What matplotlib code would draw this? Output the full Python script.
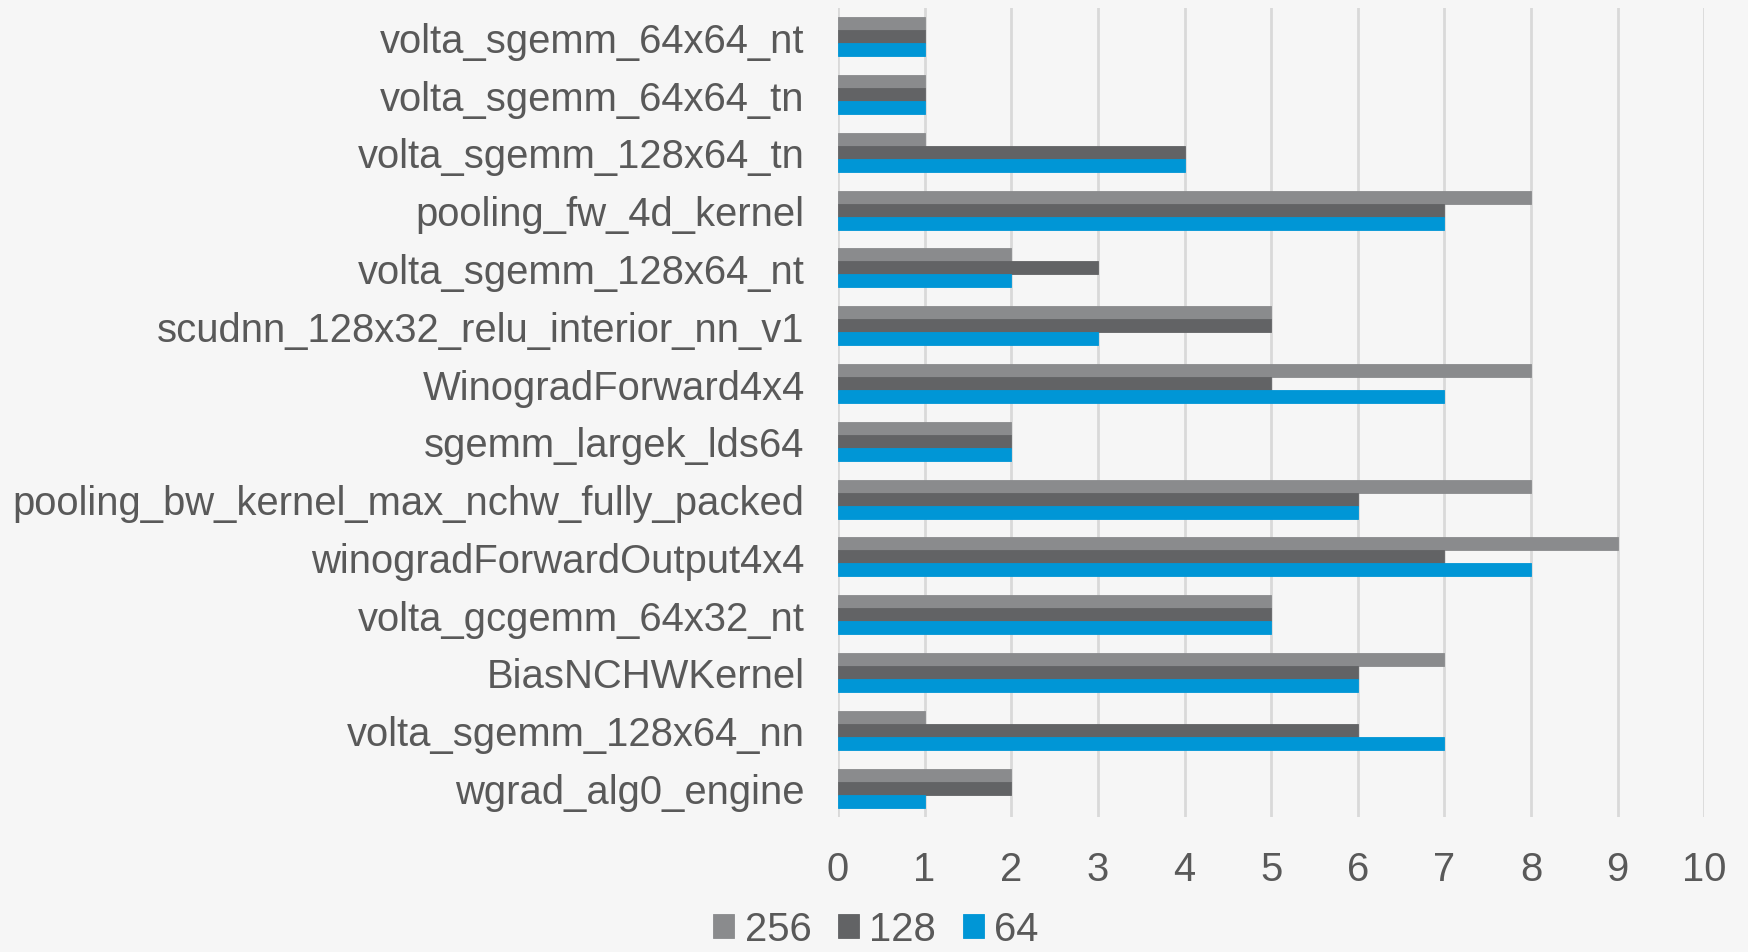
import matplotlib
matplotlib.use("Agg")
import matplotlib.pyplot as plt
import numpy as np

kernels = [
    "volta_sgemm_64x64_nt",
    "volta_sgemm_64x64_tn",
    "volta_sgemm_128x64_tn",
    "pooling_fw_4d_kernel",
    "volta_sgemm_128x64_nt",
    "scudnn_128x32_relu_interior_nn_v1",
    "WinogradForward4x4",
    "sgemm_largek_lds64",
    "pooling_bw_kernel_max_nchw_fully_packed",
    "winogradForwardOutput4x4",
    "volta_gcgemm_64x32_nt",
    "BiasNCHWKernel",
    "volta_sgemm_128x64_nn",
    "wgrad_alg0_engine",
]
batch_256 = [1, 1, 1, 8, 2, 5, 8, 2, 8, 9, 5, 7, 1, 2]
batch_128 = [1, 1, 4, 7, 3, 5, 5, 2, 6, 7, 5, 6, 6, 2]
batch_64 = [1, 1, 4, 7, 2, 3, 7, 2, 6, 8, 5, 6, 7, 1]
series_labels = ["256", "128", "64"]
x_ticks = list(range(0, 11))

colors = ["#8a8b8d", "#626365", "#0096d6"]
text_color = "#595959"
bg = "#f6f6f6"
fs = 28.8

plt.rcParams["font.family"] = ["Liberation Sans", "DejaVu Sans"]

fig = plt.figure(figsize=(17.48, 9.53), dpi=100, facecolor=bg)
ax = fig.add_axes([0.4794, 0.1417, 0.9750 - 0.4794, 0.9906 - 0.1417], facecolor=bg)

y = np.arange(len(kernels))
h = 0.225
for k, (vals, c, lab) in enumerate(zip([batch_256, batch_128, batch_64], colors, series_labels)):
    ax.barh(y + (k - 1) * h, vals, height=h, color=c, label=lab, zorder=3,
            edgecolor=c, linewidth=0.6)

ax.set_xlim(0, 10)
ax.set_ylim(len(kernels) - 0.5, -0.5)
ax.set_xticks(x_ticks)
ax.set_yticks(y)
ax.set_yticklabels(kernels)
ax.tick_params(axis="both", length=0, labelsize=fs, colors=text_color)
ax.tick_params(axis="y", pad=24)
ax.tick_params(axis="x", pad=24)
ax.grid(axis="x", color="#d9d9d9", linewidth=2.0, zorder=0)
ax.set_axisbelow(True)
for s in ax.spines.values():
    s.set_visible(False)

leg = fig.legend(loc="lower center", bbox_to_anchor=(0.501, -0.034), ncol=3, frameon=False,
                 fontsize=fs, handlelength=0.53, handleheight=0.53, handletextpad=0.26,
                 columnspacing=0.66, labelcolor=text_color)

fig.savefig("out.png", dpi=100, facecolor=bg)
